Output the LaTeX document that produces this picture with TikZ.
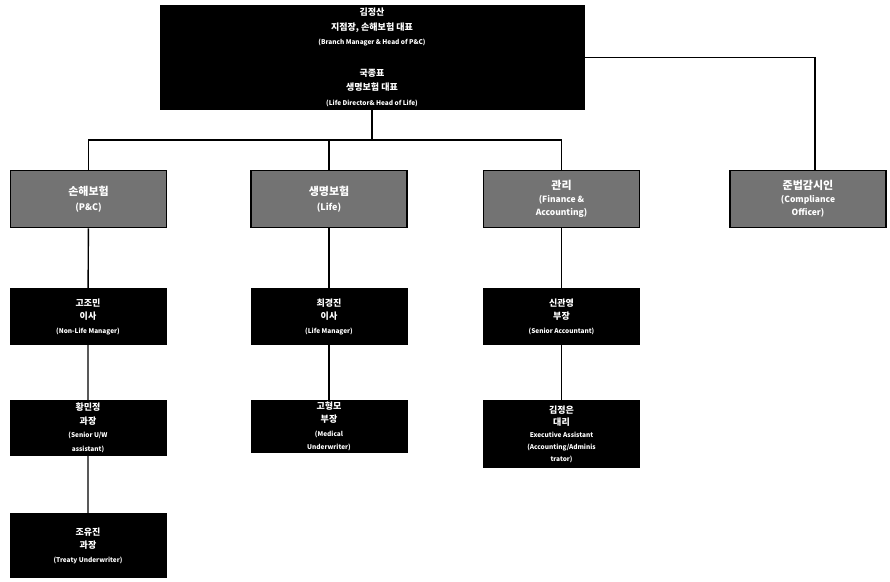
\documentclass[tikz,border=0pt]{standalone}
\usepackage{fontspec}
\newfontfamily\kr{Noto Sans CJK KR}
\newcommand\engl[1]{{\fontsize{6.5}{8}\selectfont #1}}
\begin{document}
\begin{tikzpicture}[x=1pt,y=-1pt,
  head/.style={fill=black,text=white,align=center,inner sep=0pt,font=\kr\bfseries\fontsize{9}{13.5}\selectfont},
  staff/.style={head,minimum width=157pt},
  unit/.style={draw=black,line width=1.5pt,fill=black!55,text=white,align=center,inner sep=0pt,
    minimum width=156pt,minimum height=57pt,font=\kr\bfseries\fontsize{11}{15}\selectfont},
  link/.style={line width=1.4pt}]
\useasboundingbox (0,0) rectangle (890,581);
% top
\node[head,minimum width=425pt,minimum height=105pt,font=\kr\bfseries\fontsize{9}{14.5}\selectfont] (hq) at (372,57.5)
  {김정산\\지점장, 손해보험 대표\\\engl{(Branch Manager \& Head of P\&C)}\\[17pt]
   국종표\\생명보험 대표\\\engl{(Life Director\& Head of Life)}};
% units
\node[unit] (pnc) at (88.5,199) {손해보험\\\engl{\fontsize{9}{11}\selectfont(P\&C)}};
\node[unit] (life) at (329,199) {생명보험\\\engl{\fontsize{9}{11}\selectfont(Life)}};
\node[unit,font=\kr\bfseries\fontsize{11}{13}\selectfont] (fin) at (561.5,199) {관리\\\engl{\fontsize{8.5}{13}\selectfont(Finance \&}\\\engl{\fontsize{8.5}{13}\selectfont Accounting)}};
\node[unit,font=\kr\bfseries\fontsize{11}{13}\selectfont] (comp) at (808,199) {준법감시인\\\engl{\fontsize{8.5}{13}\selectfont(Compliance}\\\engl{\fontsize{8.5}{13}\selectfont Officer)}};
% staff
\node[staff,minimum height=57pt] (nlm) at (88,316.5) {고조민\\이사\\\engl{(Non-Life Manager)}};
\node[staff,minimum height=57pt] (lm) at (329,316.5) {최경진\\이사\\\engl{(Life Manager)}};
\node[staff,minimum height=57pt] (sa) at (561.5,316.5) {신관영\\부장\\\engl{(Senior Accountant)}};
\node[staff,minimum height=56pt] (suw) at (88,428) {황민정\\과장\\\engl{(Senior U/W}\\\engl{assistant)}};
\node[staff,minimum height=53pt] (mu) at (329,426.5) {고형모\\부장\\\engl{(Medical}\\\engl{Underwriter)}};
\node[staff,minimum height=68pt,font=\kr\bfseries\fontsize{9}{12}\selectfont] (ea) at (561.5,434) {김정은\\대리\\\engl{Executive Assistant}\\\engl{(Accounting/Adminis}\\\engl{trator)}};
\node[staff,minimum height=65pt] (tu) at (88,545.5) {조유진\\과장\\\engl{(Treaty Underwriter)}};
% lines
\coordinate (bar) at (372,140);
\draw[link] (hq.south) -- (bar);
\draw[link] (pnc.north) |- (bar) -| (fin.north);
\draw[link] (life.north) -- (life.north |- bar);
\draw[link] (hq.east) -| ([xshift=7pt]comp.north);
\draw[link] (pnc) -- (nlm) (nlm) -- (suw) (suw) -- (tu);
\draw[link] (life) -- (lm) (lm) -- (mu);
\draw[link] (fin) -- (sa) (sa) -- (ea);
\end{tikzpicture}
\end{document}
